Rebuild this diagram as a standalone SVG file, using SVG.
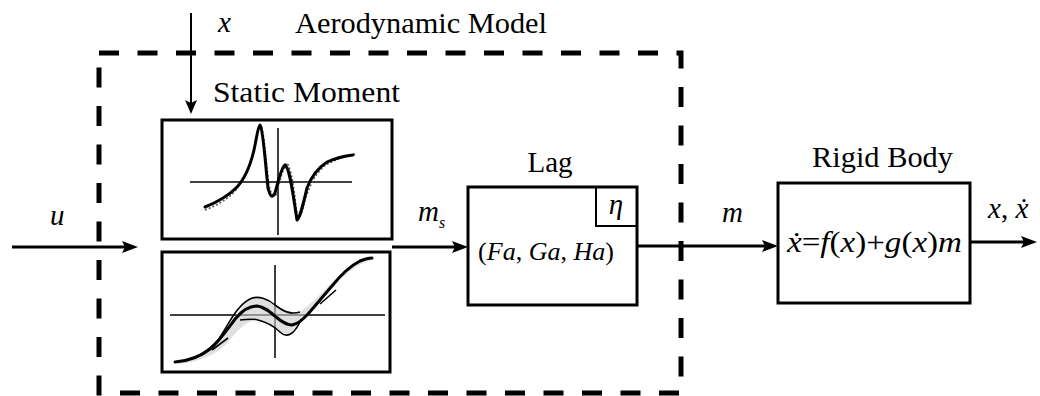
<svg xmlns="http://www.w3.org/2000/svg" width="1040" height="396" viewBox="0 0 1040 396">
<style>
.t{font-family:"Liberation Serif","DejaVu Serif",serif;font-size:29px;fill:#000}
.i{font-style:italic}
.box{fill:#fff;stroke:#000;stroke-width:3}
.ax{stroke:#000;stroke-width:1.5;fill:none}
.cv{stroke:#000;stroke-width:3;fill:none;stroke-linejoin:round;stroke-linecap:round}
.cd{stroke:#555;stroke-width:1.5;fill:none;stroke-dasharray:2 2}
.cb{stroke:#000;stroke-width:1.6;fill:none}
.ln{stroke:#000;stroke-width:3;fill:none}
</style>
<defs>
<marker id="ah" markerWidth="16" markerHeight="12" refX="8" refY="6" orient="auto" markerUnits="userSpaceOnUse">
<path d="M0,0 L16,6 L0,12 L3,6 z" fill="#000"/>
</marker>
<marker id="ahs" markerWidth="14" markerHeight="12" refX="7" refY="6" orient="auto" markerUnits="userSpaceOnUse">
<path d="M0,0 L14,6 L0,12 L3,6 z" fill="#000"/>
</marker>
</defs>

<g id="aero-model">
<path d="M99,53 H681 V393 H99 Z" fill="none" stroke="#000" stroke-width="5" stroke-dasharray="20 18.5"/>
<text class="t" x="295" y="33" textLength="252" lengthAdjust="spacingAndGlyphs">Aerodynamic Model</text>
</g>

<g id="static-moment">
<text class="t" x="213" y="102" textLength="187" lengthAdjust="spacingAndGlyphs">Static Moment</text>
<rect class="box" x="162" y="120" width="230" height="119"/>
<line class="ax" x1="190" y1="182" x2="352" y2="182"/>
<line class="ax" x1="278" y1="128" x2="278" y2="235"/>
<path class="cd" d="M205,210 C215,206 226,201 236,190 C244,180 250,168 254,150 C257,136 258,128 261,126 C264,130 266,160 269,185 C271,195 274,199 277,193 C280,180 283,168 287,163 C292,170 294,190 297,214 C299,222 302,214 305,200 C310,185 316,172 326,165 C334,160 344,157 355,154"/>
<path class="cv" d="M205,207 C215,203 226,198 236,188 C244,180 250,167 254,150 C257,136 258,126 260,125 C263,128 265,160 268,188 C270,196 272,199 275,193 C278,182 281,168 285,165 C290,168 293,195 297,220 C300,218 303,205 307,188 C311,177 318,168 327,162 C336,158 344,156 353,155"/>
</g>

<g id="static-curve">
<rect class="box" x="162" y="252" width="228" height="120"/>
<line class="ax" x1="170" y1="315" x2="385" y2="315"/>
<line class="ax" x1="275" y1="265" x2="275" y2="358"/>
<path d="M178,362 C195,360 207,352 220,338 C230,326 238,308 250,300 C258,295 268,300 276,306 C284,312 292,315 300,312 C310,305 322,292 335,280 C347,268 360,260 372,257 L372,260 C360,263 347,272 335,285 C322,298 312,312 300,322 C294,332 288,336 282,332 C274,326 266,320 256,320 C246,321 238,330 228,342 C218,354 200,362 178,364 Z" fill="#ccc" opacity="0.6"/>
<path class="cb" d="M176,362 C195,360 207,352 218,340 C228,326 236,306 250,299 C258,295 268,299 275,305 C283,311 290,315 300,312"/>
<path class="cb" d="M240,320 C246,320 252,318 258,320 C266,322 274,326 280,332 C284,336 288,336 292,333 C296,330 298,326 300,322"/>
<path class="cv" d="M175,362 C188,361 200,357 210,349 C220,341 228,328 236,318 C242,311 250,306 257,306 C265,307 270,312 276,317 C282,322 287,325 292,325 C298,324 302,320 308,314 C316,305 324,295 332,286 C340,276 350,266 360,261 C365,259 369,258 372,258"/>
<path class="cb" d="M212,350 L228,338"/>
<path class="cb" d="M320,304 L336,290"/>
</g>

<g id="lag">
<text class="t" x="550" y="172" text-anchor="middle">Lag</text>
<rect class="box" x="468" y="187" width="169" height="118"/>
<rect x="596" y="187" width="41" height="39" fill="none" stroke="#000" stroke-width="2"/>
<text class="t i" x="616" y="214" text-anchor="middle">η</text>
<text class="t" x="546" y="260" text-anchor="middle" font-size="26" style="font-size:26px">(<tspan class="i">Fa</tspan>, <tspan class="i">Ga</tspan>, <tspan class="i">Ha</tspan>)</text>
</g>

<g id="rigid-body">
<text class="t" x="812" y="167" textLength="141" lengthAdjust="spacingAndGlyphs">Rigid Body</text>
<rect class="box" x="778" y="183" width="192" height="120"/>
<text class="t" x="787" y="252" textLength="175" lengthAdjust="spacingAndGlyphs"><tspan class="i">ẋ</tspan>=<tspan class="i">f</tspan>(<tspan class="i">x</tspan>)+<tspan class="i">g</tspan>(<tspan class="i">x</tspan>)<tspan class="i">m</tspan></text>
</g>

<g id="connectors">
<line x1="191" y1="13" x2="191" y2="107" stroke="#000" stroke-width="2" marker-end="url(#ahs)"/>
<line class="ln" x1="12" y1="247" x2="130" y2="247" marker-end="url(#ah)"/>
<line class="ln" x1="392" y1="247" x2="460" y2="247" marker-end="url(#ah)"/>
<line class="ln" x1="637" y1="246" x2="770" y2="246" marker-end="url(#ah)"/>
<line class="ln" x1="970" y1="242" x2="1029" y2="242" marker-end="url(#ah)"/>
</g>

<g id="labels">
<text class="t i" x="218" y="32">x</text>
<text class="t i" x="50" y="225">u</text>
<text class="t i" x="418" y="221">m<tspan font-size="16" dy="7">s</tspan></text>
<text class="t i" x="722" y="222">m</text>
<text class="t" x="988" y="218"><tspan class="i">x</tspan>, <tspan class="i">ẋ</tspan></text>
</g>
</svg>
